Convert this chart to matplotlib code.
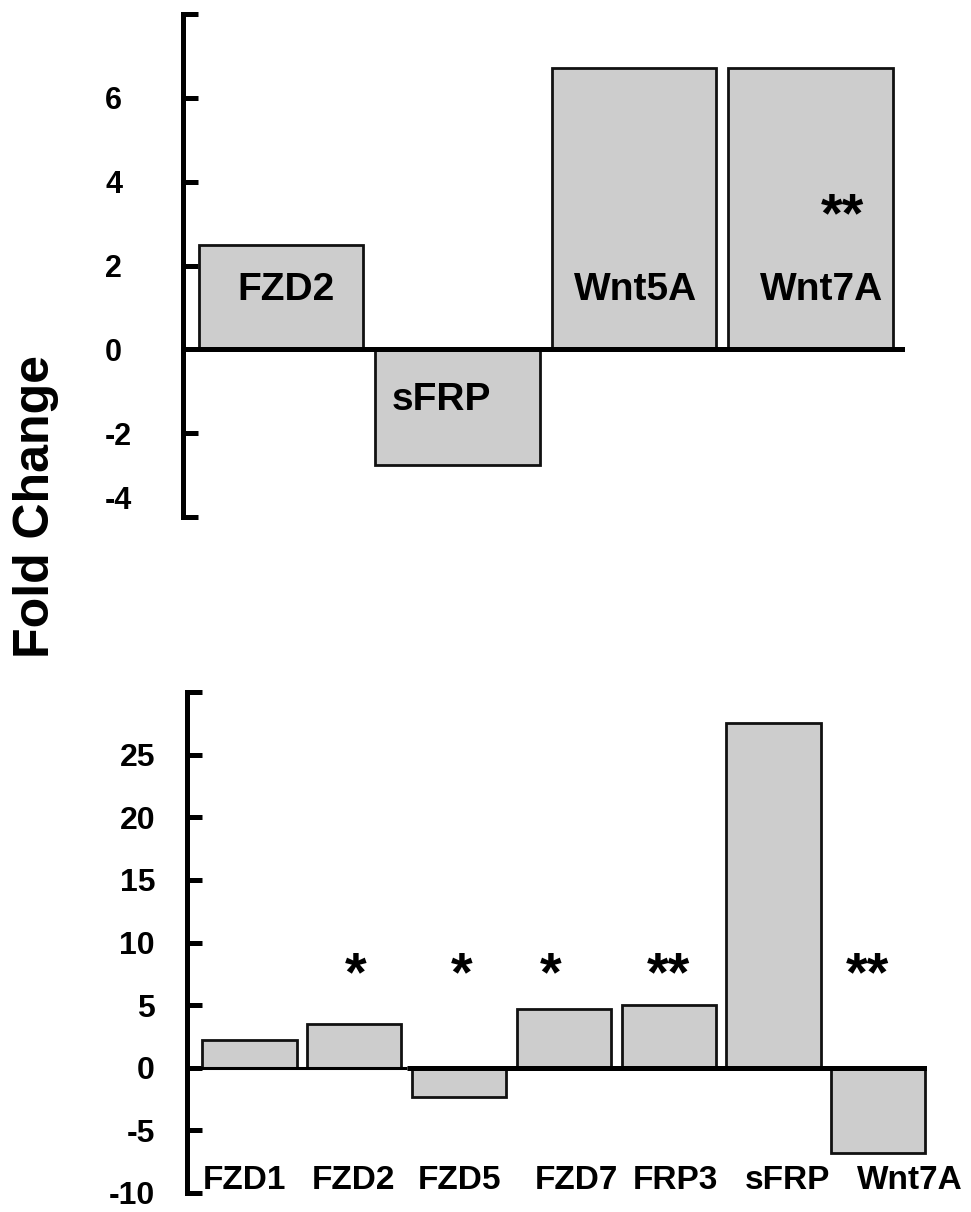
import matplotlib.pyplot as plt
import matplotlib.transforms as mtransforms

plt.rcParams['font.family'] = ['Liberation Sans', 'DejaVu Sans']
plt.rcParams['font.weight'] = 'bold'

# -----------------------------
# DATA
# -----------------------------
top_genes = ['FZD2', 'sFRP', 'Wnt5A', 'Wnt7A']
top_fold = [2.5, -2.75, 6.7, 6.7]
top_stars = ['', '', '', '**']
top_ticks = [-4, -2, 0, 2, 4, 6, 8]
top_ticklabels = ['-4', '-2', '0', '2', '4', '6', '']

bottom_genes = ['FZD1', 'FZD2', 'FZD5', 'FZD7', 'FRP3', 'sFRP', 'Wnt7A']
bottom_fold = [2.25, 3.5, -2.3, 4.7, 5.0, 27.5, -6.8]
bottom_stars = ['', '*', '*', '*', '**', '', '**']
bottom_ticks = [-10, -5, 0, 5, 10, 15, 20, 25, 30]
bottom_ticklabels = ['-10', '-5', '0', '5', '10', '15', '20', '25', '']

# nudges of the text labels (layout only)
top_label_dx = [0.03, -0.09, 0.01, 0.065]
top_label_y = [1.42, -1.22, 1.42, 1.42]
bottom_label_dx = [-0.05, -0.01, 0.0, 0.12, 0.06, 0.13, 0.30]
bottom_star_dx = [0, 0.01, 0.02, -0.13, 0.0, 0, -0.10]

BAR_COLOR = '#cdcdcd'
EDGE = '#111111'

W, H = 971, 1212
fig = plt.figure(figsize=(W / 100, H / 100), dpi=100)


def px_axes(left, top, right, bottom):
    return fig.add_axes([left / W, 1 - bottom / H, (right - left) / W, (bottom - top) / H])


def style(ax, ticks, labels):
    for s in ['top', 'right', 'bottom']:
        ax.spines[s].set_visible(False)
    ax.spines['left'].set_linewidth(3.6)
    ax.set_xticks([])
    ax.set_yticks(ticks)
    ax.set_yticklabels(labels)
    ax.set_ylim(ticks[0], ticks[-1])
    ax.tick_params(axis='y', direction='in', length=11, width=3.6)
    ax.patch.set_alpha(0)


# -----------------------------
# TOP PANEL
# -----------------------------
ax1 = px_axes(183, 14, 905, 517)
style(ax1, top_ticks, top_ticklabels)
x1 = list(range(len(top_genes)))
ax1.bar(x1, top_fold, width=0.93, color=BAR_COLOR, edgecolor=EDGE, linewidth=2.0, zorder=2)
ax1.set_xlim(-0.555, 3.535)
ax1.axhline(0, color='black', lw=3.6, zorder=3)
ax1.tick_params(axis='y', pad=56, labelsize=22)
for lab in ax1.get_yticklabels():
    lab.set_horizontalalignment('left')
lab = ax1.get_yticklabels()[0]
lab.set_transform(lab.get_transform() + mtransforms.ScaledTranslation(0, 0.2, fig.dpi_scale_trans))

for i, g in enumerate(top_genes):
    ax1.text(x1[i] + top_label_dx[i], top_label_y[i], g, ha='center', va='center',
             fontsize=28, fontweight='bold', zorder=4)
    if top_stars[i]:
        ax1.text(x1[i] + 0.18, 3.15, top_stars[i], ha='center', va='center',
                 fontsize=40, fontweight='bold', zorder=4)

# -----------------------------
# BOTTOM PANEL
# -----------------------------
ax2 = px_axes(187, 692, 927, 1193)
style(ax2, bottom_ticks, bottom_ticklabels)
x2 = list(range(len(bottom_genes)))
ax2.bar(x2, bottom_fold, width=0.9, color=BAR_COLOR, edgecolor=EDGE, linewidth=2.0, zorder=2)
ax2.set_xlim(-0.596, 6.465)
ax2.hlines(0, -0.596, 1.5, color='black', lw=2.2, zorder=3)
ax2.hlines(0, 1.5, 6.465, color='black', lw=3.6, zorder=3)
ax2.tick_params(axis='y', pad=23, labelsize=23)

for i, g in enumerate(bottom_genes):
    ax2.text(x2[i] + bottom_label_dx[i], -9.0, g, ha='center', va='center',
             fontsize=24, fontweight='bold', zorder=4)
    if bottom_stars[i]:
        ax2.text(x2[i] + bottom_star_dx[i], 7.3, bottom_stars[i], ha='center', va='center',
                 fontsize=40, fontweight='bold', zorder=4)

fig.text(36 / W, 1 - 507 / H, 'Fold Change', rotation=90, ha='center', va='center',
         fontsize=36, fontweight='bold')

fig.savefig('out.png', dpi=100)
